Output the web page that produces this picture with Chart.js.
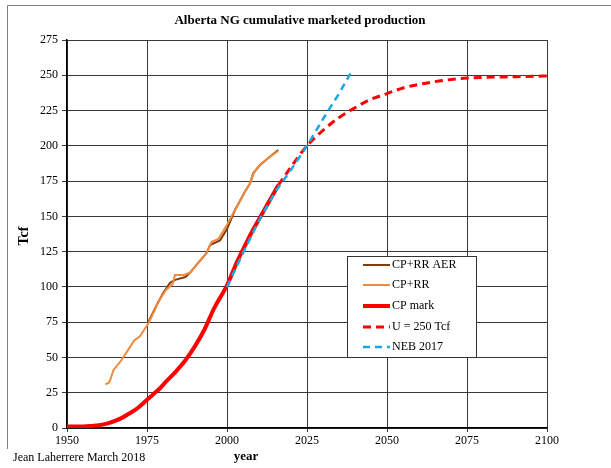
<!DOCTYPE html>
<html>
<head>
<meta charset="utf-8">
<script src="https://cdn.jsdelivr.net/npm/chart.js@4.4.1/dist/chart.umd.min.js"></script>
<style>
  html, body { margin: 0; padding: 0; background: #fff; }
</style>
</head>
<body>
<canvas id="chart" width="611" height="468"></canvas>
<script>
// axis ticks
const yearTicks = [1950, 1975, 2000, 2025, 2050, 2075, 2100];
const tcfTicks = [0, 25, 50, 75, 100, 125, 150, 175, 200, 225, 250, 275];

// CP+RR AER (Tcf)
const aerYears = [1975.4, 1978, 1980, 1982.2, 1983.75, 1987, 1988.4, 1991, 1993.6, 1994.7, 1997.8, 2000, 2002.5, 2005.6, 2007.2, 2008.2, 2010.3, 2013.4, 2016];
const aerValues = [75, 87, 95.5, 103, 105, 107, 110, 117, 124, 129.7, 133, 141, 154.5, 167.5, 173.4, 180.5, 186.4, 192.3, 197];

// CP+RR
const rrYears = [1962, 1963, 1963.5, 1964.5, 1967, 1969, 1971, 1972.8, 1975.4, 1977.5, 1978.5, 1981, 1983, 1983.75, 1986.5, 1988.4, 1991, 1993.6, 1995.2, 1997.3, 2000, 2002.5, 2005.6, 2007.2, 2008.2, 2010.3, 2013.4, 2016];
const rrValues = [31, 32, 34, 41, 48, 55, 62, 65, 74, 84, 89.5, 98, 102, 108.4, 108.4, 110, 117, 124, 132, 134, 144, 154.5, 167.5, 173.4, 180.5, 186.4, 192.3, 196.3];

// CP mark
const cpYears = [1950, 1955, 1958, 1960, 1963, 1965, 1967, 1970, 1972, 1975, 1977, 1979, 1981, 1984, 1987, 1990, 1993, 1996, 2000, 2003, 2006, 2008, 2010, 2013, 2016];
const cpValues = [1, 1, 1.5, 2, 3.5, 5, 7, 11, 14, 20, 24, 28, 33, 40, 48, 58, 70, 85, 101, 117, 131, 140, 148, 160, 172];

// U = 250 Tcf
const uYears = [2016, 2020, 2025, 2030, 2035, 2040, 2045, 2050, 2055, 2060, 2065, 2070, 2075, 2080, 2090, 2100];
const uValues = [172, 185, 200, 211, 220, 227, 233, 237, 241, 243.5, 245.5, 247, 248, 248.5, 249, 249.5];

// NEB 2017
const nebYears = [2000, 2005, 2010, 2015, 2020, 2025, 2030, 2035, 2039];
const nebValues = [100, 124, 147, 167, 183, 200, 219, 237, 253];

const toPoints = (xs, ys) => xs.map((x, i) => ({ x: x, y: ys[i] }));

const serif = '"Liberation Serif", "Times New Roman", serif';

// title, axis titles, footer, frame and the boxed legend
const decorations = {
  id: 'decorations',
  afterDraw(chart) {
    const ctx = chart.ctx;
    ctx.save();

    ctx.strokeStyle = '#808080';
    ctx.lineWidth = 1;
    ctx.beginPath();
    ctx.moveTo(7.5, 449);
    ctx.lineTo(7.5, 5.5);
    ctx.lineTo(611, 5.5);
    ctx.stroke();

    ctx.fillStyle = '#000';
    ctx.textBaseline = 'middle';
    ctx.textAlign = 'center';
    ctx.font = 'bold 13px ' + serif;
    ctx.fillText('Alberta NG cumulative marketed production', 300, 21);
    ctx.fillText('year', 246, 457);

    ctx.save();
    ctx.font = 'bold 14px ' + serif;
    ctx.translate(24, 236);
    ctx.rotate(-Math.PI / 2);
    ctx.fillText('Tcf', 0, 0);
    ctx.restore();

    ctx.textAlign = 'left';
    ctx.font = '12px ' + serif;
    ctx.fillText('Jean Laherrere March 2018', 13, 458);

    // legend box
    const bx = 347.5, by = 256.5, bw = 129, bh = 101;
    ctx.fillStyle = '#fff';
    ctx.fillRect(bx, by, bw, bh);
    ctx.strokeStyle = '#333';
    ctx.strokeRect(bx, by, bw, bh);

    const rows = [265, 285, 306, 327, 347];
    chart.data.datasets.forEach((ds, i) => {
      const y = rows[i];
      ctx.beginPath();
      ctx.strokeStyle = ds.borderColor;
      ctx.lineWidth = ds.borderWidth;
      ctx.setLineDash(ds.borderDash || []);
      ctx.moveTo(363, y);
      ctx.lineTo(390, y);
      ctx.stroke();
      ctx.setLineDash([]);
      ctx.fillStyle = '#000';
      ctx.fillText(ds.label, 392, y);
    });

    ctx.restore();
  }
};

new Chart(document.getElementById('chart'), {
  type: 'line',
  data: {
    datasets: [
      {
        label: 'CP+RR AER',
        data: toPoints(aerYears, aerValues),
        borderColor: '#843c0c',
        borderWidth: 2,
        order: 5
      },
      {
        label: 'CP+RR',
        data: toPoints(rrYears, rrValues),
        borderColor: '#f08a3e',
        borderWidth: 2,
        order: 4
      },
      {
        label: 'CP mark',
        data: toPoints(cpYears, cpValues),
        borderColor: '#ff0000',
        borderWidth: 4,
        cubicInterpolationMode: 'monotone',
        order: 3
      },
      {
        label: 'U = 250 Tcf',
        data: toPoints(uYears, uValues),
        borderColor: '#ff0000',
        borderWidth: 3,
        borderDash: [8, 5],
        cubicInterpolationMode: 'monotone',
        order: 2
      },
      {
        label: 'NEB 2017',
        data: toPoints(nebYears, nebValues),
        borderColor: '#1aa9e6',
        borderWidth: 2.5,
        borderDash: [7, 5],
        order: 1
      }
    ]
  },
  options: {
    responsive: false,
    animation: false,
    elements: { point: { radius: 0 }, line: { tension: 0, fill: false } },
    layout: { padding: { left: 0, top: 40, right: 64, bottom: 0 } },
    plugins: {
      legend: { display: false },
      title: { display: false },
      tooltip: { enabled: false }
    },
    scales: {
      x: {
        type: 'linear',
        min: 1950,
        max: 2100,
        afterBuildTicks: (scale) => { scale.ticks = yearTicks.map(v => ({ value: v })); },
        afterFit: (scale) => { scale.height = 40; },
        ticks: {
          color: '#000',
          font: { family: serif, size: 12 },
          padding: 2,
          maxRotation: 0,
          callback: (v) => String(v)
        },
        grid: { color: '#3a3a3a', lineWidth: 1, tickLength: 4 },
        border: { color: '#000', width: 1.5 }
      },
      y: {
        min: 0,
        max: 275,
        afterBuildTicks: (scale) => { scale.ticks = tcfTicks.map(v => ({ value: v })); },
        afterFit: (scale) => { scale.width = 67; },
        ticks: {
          color: '#000',
          font: { family: serif, size: 12 },
          padding: 4
        },
        grid: { color: '#3a3a3a', lineWidth: 1, tickLength: 5 },
        border: { color: '#000', width: 1.5 }
      }
    }
  },
  plugins: [decorations]
});
</script>
</body>
</html>
